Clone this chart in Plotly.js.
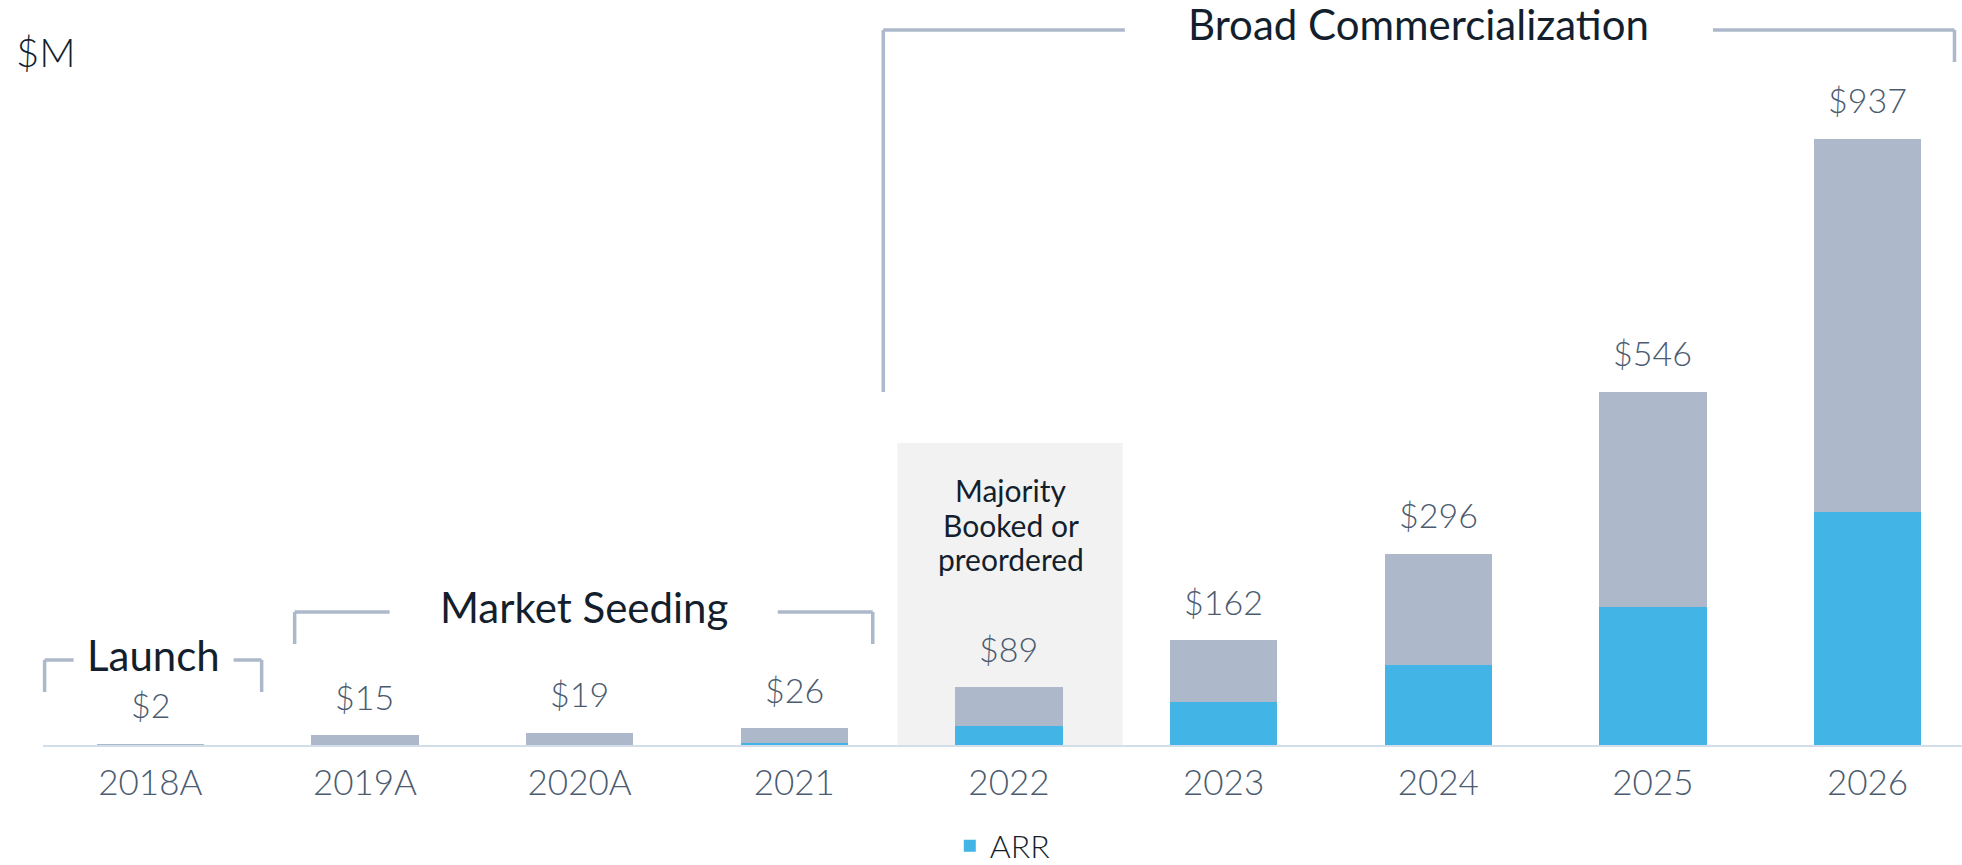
<!DOCTYPE html>
<html>
<head>
<meta charset="utf-8">
<script src="https://cdn.plot.ly/plotly-3.0.1.min.js"></script>
<style>
  html, body { margin: 0; padding: 0; background: #ffffff; }
  #chart { width: 1962px; height: 865px; }
</style>
</head>
<body>
<div id="chart"></div>
<script>
// ---- data ----
var years  = ['2018A', '2019A', '2020A', '2021', '2022', '2023', '2024', '2025', '2026'];
var totals = [2, 15, 19, 26, 89, 162, 296, 546, 937];
var arr    = [0, 0, 0, 3, 29, 66, 123, 214, 360];
var seriesName = 'ARR';
var unitLabel = '$M';
var phaseLabels = ['Launch', 'Market Seeding', 'Broad Commercialization'];
var boxLines = ['Majority', 'Booked or', 'preordered'];

// ---- layout geometry (pixels) ----
var W = 1962, H = 865;
var M = { l: 43.4, r: 0, t: 40, b: 120, autoexpand: false };
var plotW = W - M.l - M.r, plotH = H - M.t - M.b;
function px(X) { return (X - M.l) / plotW; }
function py(Y) { return (H - M.b - Y) / plotH; }

var BLUE = '#42b4e5', GREY = '#adb8ca', LINE = '#adb8ca';
var DARK = '#141f2e', LABEL = '#4b5b70';
var FONT = 'Lato, "Open Sans", sans-serif';

var rest = totals.map(function (t, i) { return t - arr[i]; });

var traces = [
  { type: 'bar', x: years, y: arr, name: seriesName, marker: { color: BLUE, line: { width: 0 } },
    hoverinfo: 'skip', showlegend: true },
  { type: 'bar', x: years, y: rest, name: 'Other', marker: { color: GREY, line: { width: 0 } },
    hoverinfo: 'skip', showlegend: false }
];

var annotations = years.map(function (yr, i) {
  return { x: i, y: totals[i], xref: 'x', yref: 'y', text: '$' + totals[i], showarrow: false,
    yanchor: 'middle', yshift: 39, font: { family: FONT, size: 34, weight: 300, color: LABEL } };
});

function txt(X, Y, t, size, weight, color) {
  return { xref: 'paper', yref: 'paper', x: px(X), y: py(Y), text: t, showarrow: false,
    xanchor: 'center', yanchor: 'middle', font: { family: FONT, size: size, weight: weight, color: color } };
}
annotations.push(txt(46, 52, unitLabel, 40, 300, DARK));
annotations.push(txt(154, 655, phaseLabels[0], 42, 400, DARK));
annotations.push(txt(584, 607, phaseLabels[1], 42, 400, DARK));
annotations.push(txt(1419, 24, phaseLabels[2], 42, 400, DARK));
boxLines.forEach(function (t, k) {
  annotations.push(txt(1011, 490 + k * 34.5, t, 30, 400, DARK));
});

function seg(x0, y0, x1, y1) {
  return { type: 'line', xref: 'paper', yref: 'paper', x0: px(x0), y0: py(y0), x1: px(x1), y1: py(y1),
    line: { color: LINE, width: 3.5 }, layer: 'above' };
}
var shapes = [
  { type: 'rect', xref: 'x', yref: 'paper', x0: 3.48, x1: 4.53, y0: 0, y1: py(443),
    fillcolor: '#f2f2f2', line: { width: 0 }, layer: 'below' },
  // Launch
  seg(45, 660, 45, 692), seg(45, 660, 74, 660), seg(234, 660, 262, 660), seg(262, 660, 262, 692),
  // Market Seeding
  seg(295, 612, 295, 644), seg(295, 612, 390, 612), seg(778, 612, 873, 612), seg(873, 612, 873, 644),
  // Broad Commercialization
  seg(883.5, 30, 883.5, 392), seg(883.5, 30, 1125, 30), seg(1713, 30, 1954.5, 30), seg(1954.5, 30, 1954.5, 62)
];

var layout = {
  width: W, height: H,
  margin: M,
  paper_bgcolor: '#ffffff', plot_bgcolor: 'rgba(0,0,0,0)',
  barmode: 'stack', bargap: 0.5,
  xaxis: { type: 'category', range: [-0.5, 8.44], showgrid: false, zeroline: false,
    showline: true, linecolor: '#d3deeb', linewidth: 2, ticks: '',
    tickfont: { family: FONT, size: 35, weight: 300, color: LABEL }, ticklabelstandoff: 6, fixedrange: true },
  yaxis: { range: [0, 1090], visible: false, fixedrange: true },
  showlegend: true,
  legend: { orientation: 'h', x: px(950), xanchor: 'left', y: py(846), yanchor: 'middle',
    font: { family: FONT, size: 32, weight: 300, color: DARK }, bgcolor: 'rgba(0,0,0,0)' },
  annotations: annotations,
  shapes: shapes
};

Plotly.newPlot('chart', traces, layout, { displayModeBar: false, staticPlot: true });
</script>
</body>
</html>
